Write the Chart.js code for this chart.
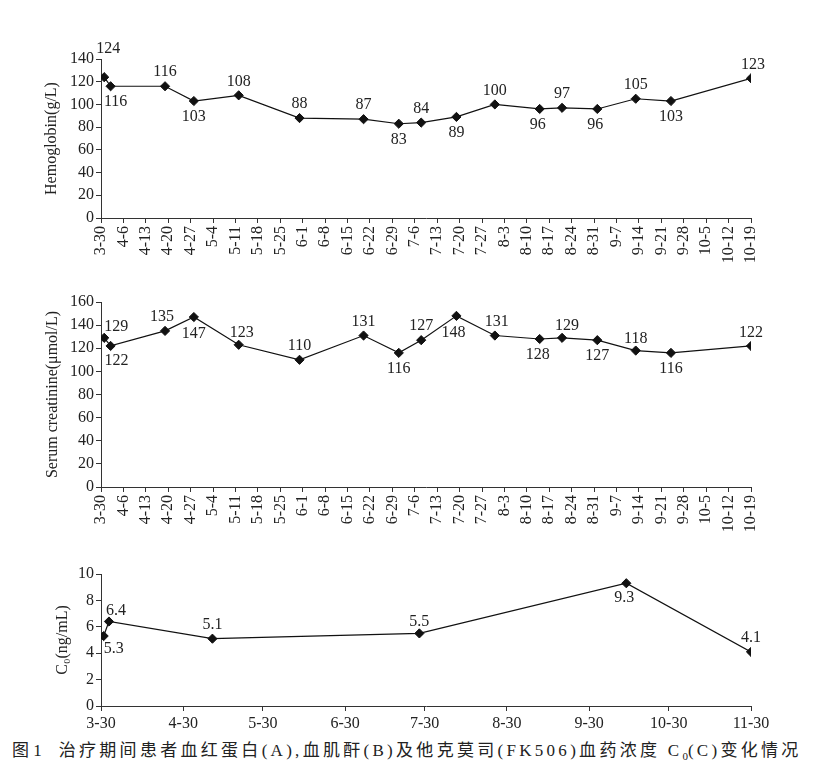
<!DOCTYPE html>
<html>
<head>
<meta charset="utf-8">
<script src="https://cdn.jsdelivr.net/npm/chart.js@4.4.1/dist/chart.umd.min.js"></script>
<style>
  body { margin: 0; background: #fff; width: 818px; height: 772px; position: relative; overflow: hidden; }
  .box { position: absolute; left: 0; width: 818px; }
  #caption { position: absolute; left: 12px; top: 736px; font-family: "Liberation Serif", "Noto Sans CJK SC", serif; font-size: 17px; color: #222; white-space: nowrap; }
  #caption sub { font-size: 11px; letter-spacing: 0; }
</style>
</head>
<body>
<div class="box" style="top:0;height:280px"><canvas id="chartA"></canvas></div>
<div class="box" style="top:280px;height:280px"><canvas id="chartB"></canvas></div>
<div class="box" style="top:560px;height:175px"><canvas id="chartC"></canvas></div>
<div id="caption"><span>图 1</span>&emsp;<span>治疗期间患者血红蛋白(A),血肌酐(B)及他克莫司(FK506)血药浓度 C<sub>0</sub>(C)变化情况</span></div>
<script>
// tick labels
const weekTicks = ['3-30','4-6','4-13','4-20','4-27','5-4','5-11','5-18','5-25','6-1','6-8','6-15','6-22','6-29','7-6','7-13','7-20','7-27','8-3','8-10','8-17','8-24','8-31','9-7','9-14','9-21','9-28','10-5','10-12','10-19'];
const monthTicks = ['3-30','4-30','5-30','6-30','7-30','8-30','9-30','10-30','11-30'];

// sample dates and values
const labDates = ['3-31','4-2','4-19','4-28','5-12','5-31','6-20','7-1','7-8','7-19','7-31','8-14','8-21','9-1','9-13','9-24','10-19'];
const hemoglobin = [124,116,116,103,108,88,87,83,84,89,100,96,97,96,105,103,123];
const creatinine = [129,122,135,147,123,110,131,116,127,148,131,128,129,127,118,116,122];
const c0Dates = ['3-31','4-2','5-11','7-28','10-14','11-30'];
const c0Values = [5.3,6.4,5.1,5.5,9.3,4.1];

// label offsets (dx, dy) from each point
const labelOffA = [[4,-28],[5,16],[0,-14],[0,16],[0,-14],[0,-14],[0,-14],[0,16],[0,-14],[0,16],[0,-14],[-2,16],[0,-14],[-2,16],[0,-14],[0,16],[2,-14]];
const labelOffB = [[12,-11],[6,15],[-3,-14],[0,17],[3,-12],[0,-14],[0,-14],[0,16],[0,-14],[-3,17],[2,-14],[-2,16],[5,-12],[0,16],[0,-12],[0,16],[0,-13]];
const labelOffC = [[10,13],[7,-11],[0,-14],[0,-12],[-2,15],[0,-14]];

const START = Date.UTC(2001, 2, 30);
function dayOf(s) {
  const p = s.split('-');
  return (Date.UTC(2001, +p[0] - 1, +p[1]) - START) / 864e5;
}
function labelOf(v) {
  const d = new Date(START + v * 864e5);
  return (d.getUTCMonth() + 1) + '-' + d.getUTCDate();
}

const FONT = 'Liberation Serif, "Times New Roman", serif';
const INK = '#222';

const pointLabels = {
  id: 'pointLabels',
  afterDatasetsDraw(chart, args, opts) {
    const ctx = chart.ctx;
    const meta = chart.getDatasetMeta(0);
    const data = chart.data.datasets[0].data;
    ctx.save();
    ctx.font = '16px ' + FONT;
    ctx.fillStyle = INK;
    ctx.textAlign = 'center';
    ctx.textBaseline = 'middle';
    meta.data.forEach((pt, i) => {
      const off = opts.offsets[i];
      ctx.fillText(String(data[i].y), pt.x + off[0], pt.y + off[1]);
    });
    ctx.restore();
  }
};

function makeChart(id, opt) {
  const canvasH = opt.height;
  return new Chart(document.getElementById(id), {
    type: 'line',
    data: {
      datasets: [{
        data: opt.dates.map((d, i) => ({ x: dayOf(d), y: opt.values[i] })),
        borderColor: '#111',
        borderWidth: 1.2,
        backgroundColor: '#111',
        pointStyle: 'rectRot',
        pointRadius: 4.6,
        pointBorderWidth: 1,
        pointHoverRadius: 4.6,
        tension: 0
      }]
    },
    options: {
      responsive: true,
      maintainAspectRatio: false,
      animation: false,
      events: [],
      layout: { padding: { top: opt.top, right: 67, left: 0, bottom: 0 } },
      plugins: {
        legend: { display: false },
        tooltip: { enabled: false },
        pointLabels: { offsets: opt.offsets }
      },
      scales: {
        x: {
          type: 'linear',
          min: 0,
          max: dayOf(opt.ticks[opt.ticks.length - 1]),
          afterBuildTicks: s => { s.ticks = opt.ticks.map(t => ({ value: dayOf(t) })); },
          afterFit: s => { s.height = canvasH - opt.bottom; },
          grid: { display: true, drawOnChartArea: false, drawTicks: true, tickLength: 5, color: '#333' },
          border: { display: true, color: '#333', width: 1 },
          ticks: {
            autoSkip: false,
            minRotation: opt.rotate,
            maxRotation: opt.rotate,
            padding: 3,
            color: INK,
            font: { family: FONT, size: 16 },
            callback: v => labelOf(v)
          }
        },
        y: {
          min: 0,
          max: opt.yMax,
          afterFit: s => { s.width = 101; },
          grid: { display: true, drawOnChartArea: false, drawTicks: true, tickLength: 5, color: '#333' },
          border: { display: true, color: '#333', width: 1 },
          ticks: { stepSize: opt.yStep, padding: 2, color: INK, font: { family: FONT, size: 16 } },
          title: {
            display: true,
            text: opt.yTitle,
            color: INK,
            font: { family: FONT, size: 16 },
            padding: { top: opt.titlePad, bottom: 0 }
          }
        }
      }
    },
    plugins: [pointLabels]
  });
}

makeChart('chartA', {
  height: 280, top: 59, bottom: 218, dates: labDates, values: hemoglobin,
  ticks: weekTicks, rotate: 90, yMax: 140, yStep: 20,
  yTitle: 'Hemoglobin(g/L)', titlePad: 42, offsets: labelOffA
});
makeChart('chartB', {
  height: 280, top: 22, bottom: 207, dates: labDates, values: creatinine,
  ticks: weekTicks, rotate: 90, yMax: 160, yStep: 20,
  yTitle: 'Serum creatinine(μmol/L)', titlePad: 43, offsets: labelOffB
});
makeChart('chartC', {
  height: 175, top: 14, bottom: 146, dates: c0Dates, values: c0Values,
  ticks: monthTicks, rotate: 0, yMax: 10, yStep: 2,
  yTitle: 'C₀(ng/mL)', titlePad: 53, offsets: labelOffC
});

// spread the caption body so it ends near the right edge like the printed figure
const cap = document.getElementById('caption');
const body = cap.children[1];
const target = 805 - body.getBoundingClientRect().left;
const chars = body.textContent.length;
const spacing = (target - body.getBoundingClientRect().width) / chars;
body.style.letterSpacing = Math.max(0, spacing).toFixed(2) + 'px';
</script>
</body>
</html>
